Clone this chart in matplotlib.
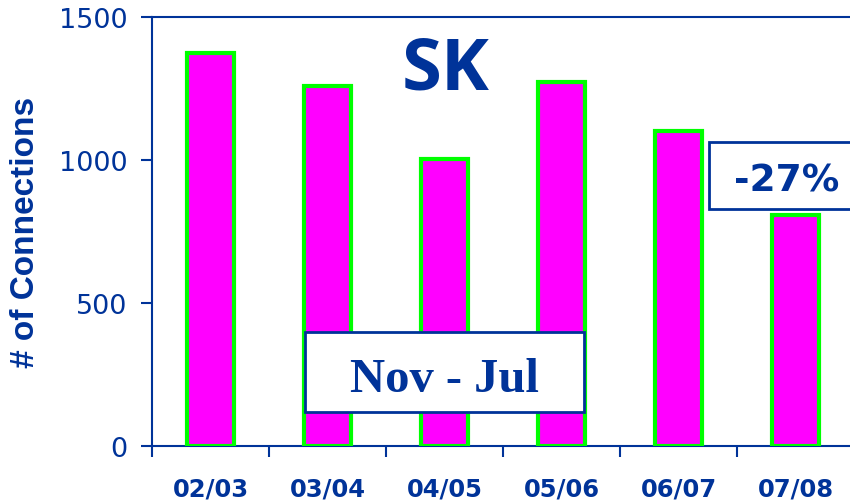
import matplotlib.pyplot as plt
import matplotlib.patches as mpatches
import numpy as np

# Connections per season (Nov - Jul)
seasons = ["02/03", "03/04", "04/05", "05/06", "06/07", "07/08"]
connections = [1375, 1258, 1002, 1272, 1103, 806]

blue = "#003399"

fig = plt.figure(figsize=(8.5, 5.02), dpi=100)
ax = fig.add_axes([0.179, 0.11, 0.826, 0.854])

x = np.arange(len(seasons))
ax.bar(x, connections, width=0.4, color="#FF00FF", edgecolor="#00FF00", linewidth=3, zorder=3)

ax.set_xlim(-0.5, 5.5)
ax.set_ylim(0, 1500)
ax.set_yticks([0, 500, 1000, 1500])
ax.tick_params(axis="y", colors=blue, labelsize=19.5, length=8, width=1.5, direction="out", pad=10)

# ticks on the boundaries, labels in the middle
ax.set_xticks(np.arange(-0.5, 6.0, 1.0))
ax.set_xticklabels([])
ax.set_xticks(x, minor=True)
ax.set_xticklabels(seasons, minor=True, fontsize=17.5, fontweight="bold", color=blue)
ax.tick_params(axis="x", which="major", colors=blue, length=8, width=1.5)
ax.tick_params(axis="x", which="minor", length=0, pad=22)

for side in ["left", "bottom", "top"]:
    ax.spines[side].set_color(blue)
    ax.spines[side].set_linewidth(1.5)
ax.spines["right"].set_visible(False)

ax.set_ylabel("# of Connections", fontsize=24, fontweight="bold", color=blue,
              fontfamily="Liberation Sans")
ax.yaxis.set_label_coords(-0.158, 0.5)

fig.text(446 / 850, 1 - 89 / 502, "SK", ha="center", va="baseline",
         fontsize=52, fontweight="bold", color=blue, fontfamily="Open Sans")

# boxes
fig.patches.append(mpatches.Rectangle((709 / 850, 1 - 210 / 502), 150 / 850, 67 / 502,
                                      transform=fig.transFigure, facecolor="white",
                                      edgecolor=blue, linewidth=2, zorder=5))
fig.text(787 / 850, 1 - 192 / 502, "-27%", ha="center", va="baseline", fontsize=27,
         fontweight="bold", color=blue, zorder=6)

fig.patches.append(mpatches.Rectangle((305 / 850, 1 - 413 / 502), 279 / 850, 80 / 502,
                                      transform=fig.transFigure, facecolor="white",
                                      edgecolor=blue, linewidth=2, zorder=5))
fig.text(444 / 850, 1 - 392 / 502, "Nov - Jul", ha="center", va="baseline", fontsize=35,
         fontweight="bold", color=blue, fontfamily="Liberation Serif", zorder=6)

fig.savefig("out.png", dpi=100)
